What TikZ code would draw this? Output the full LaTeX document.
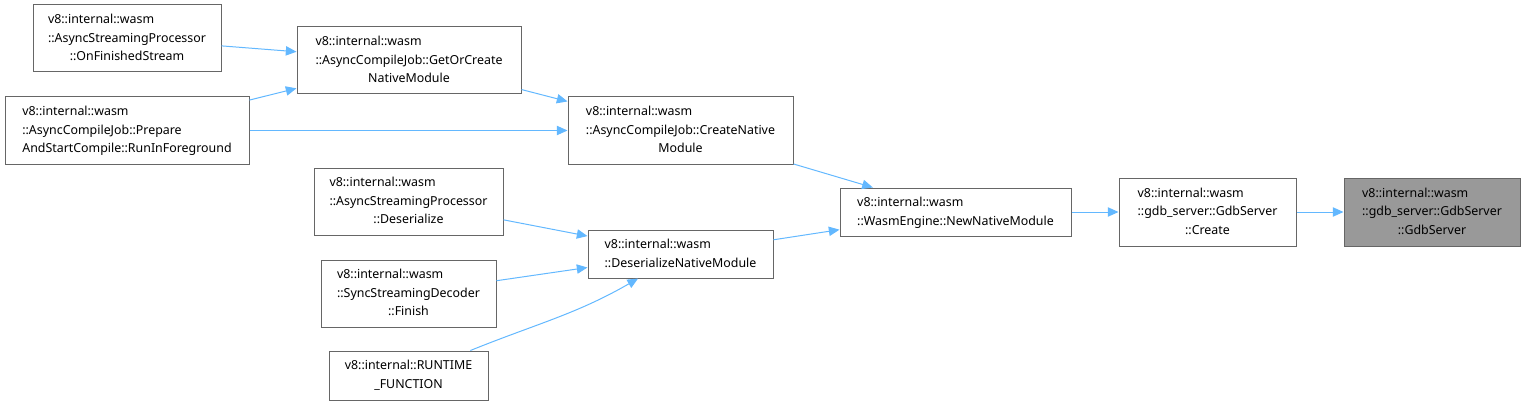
\documentclass[tikz,border=0pt]{standalone}
\usepackage{fontspec}
\setmainfont{Noto Sans}
\usetikzlibrary{arrows.meta}
\definecolor{edgeblue}{HTML}{63B8FF}
\definecolor{boxgray}{HTML}{666666}
\definecolor{hlgray}{HTML}{999999}
% label: left-aligned lines, last line centred
\newcommand{\fnlabel}[2]{\begin{tabular}{@{}l@{}}#1\\\multicolumn{1}{@{}c@{}}{#2}\end{tabular}}
\tikzset{
  fn/.style={draw=boxgray, line width=0.75pt, fill=white, inner sep=0pt, text=black,
    font=\fontsize{9.3}{14}\selectfont},
  hl/.style={fn, fill=hlgray},
  edge/.style={draw=edgeblue, line width=0.75pt, -{Triangle[length=8pt,width=7pt]}}
}
\begin{document}
\begin{tikzpicture}[x=0.75pt,y=-0.75pt]
  \useasboundingbox (0,0) rectangle (1526,406);
  % callers
  \node[fn, minimum width=141pt, minimum height=50.25pt] (ofs) at (127,38.5)
    {\fnlabel{v8::internal::wasm\\::AsyncStreamingProcessor}{::OnFinishedStream}};
  \node[fn, minimum width=183pt, minimum height=50.25pt] (rif) at (127,130.5)
    {\fnlabel{v8::internal::wasm\\::AsyncCompileJob::Prepare}{AndStartCompile::RunInForeground}};
  \node[fn, minimum width=168pt, minimum height=50.25pt] (goc) at (409,60.5)
    {\fnlabel{v8::internal::wasm\\::AsyncCompileJob::GetOrCreate}{NativeModule}};
  \node[fn, minimum width=168.75pt, minimum height=50.25pt] (cnm) at (680.5,130.5)
    {\fnlabel{v8::internal::wasm\\::AsyncCompileJob::CreateNative}{Module}};
  \node[fn, minimum width=141.75pt, minimum height=50.25pt] (asd) at (408.5,201.5)
    {\fnlabel{v8::internal::wasm\\::AsyncStreamingProcessor}{::Deserialize}};
  \node[fn, minimum width=131.25pt, minimum height=50.25pt] (ssd) at (408.5,293.5)
    {\fnlabel{v8::internal::wasm\\::SyncStreamingDecoder}{::Finish}};
  \node[fn, minimum width=119.25pt, minimum height=36.75pt] (rt) at (408.5,375.5)
    {\fnlabel{v8::internal::RUNTIME}{\_FUNCTION}};
  \node[fn, minimum width=138.75pt, minimum height=36pt] (dnm) at (680.5,254)
    {\fnlabel{v8::internal::wasm}{::DeserializeNativeModule}};
  \node[fn, minimum width=173.25pt, minimum height=36pt] (nnm) at (955.5,212)
    {\fnlabel{v8::internal::wasm}{::WasmEngine::NewNativeModule}};
  \node[fn, minimum width=132.75pt, minimum height=51pt] (cre) at (1207.5,212)
    {\fnlabel{v8::internal::wasm\\::gdb\_server::GdbServer}{::Create}};
  \node[hl, minimum width=132pt, minimum height=51pt] (gdb) at (1432,212)
    {\fnlabel{v8::internal::wasm\\::gdb\_server::GdbServer}{::GdbServer}};
  % calls
  \draw[edge] (ofs) -- (goc);
  \draw[edge] (rif) -- (goc);
  \draw[edge] (rif) -- (cnm);
  \draw[edge] (goc) -- (cnm);
  \draw[edge] (cnm) -- (nnm);
  \draw[edge] (asd) -- (dnm);
  \draw[edge] (ssd) -- (dnm);
  \draw[edge] (rt) to[out=22, in=-150] (dnm);
  \draw[edge] (dnm) -- (nnm);
  \draw[edge] (nnm) -- (cre);
  \draw[edge] (cre) -- (gdb);
\end{tikzpicture}
\end{document}
